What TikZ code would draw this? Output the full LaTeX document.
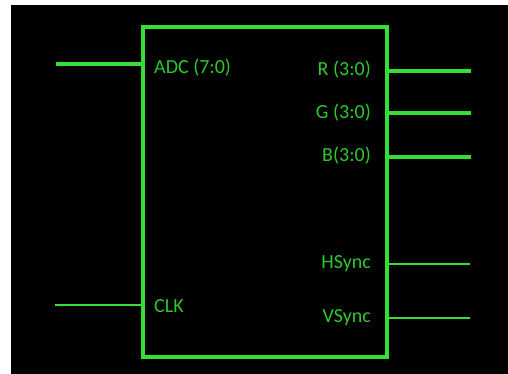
\documentclass[tikz,border=0pt]{standalone}
\usepackage{fontspec}
\setmainfont{Carlito}
\usetikzlibrary{positioning, calc}
\definecolor{wiregreen}{RGB}{52,222,52}
\definecolor{labelgreen}{RGB}{44,200,44}
\begin{document}
\begin{tikzpicture}[x=1pt,y=1pt,
    busline/.style={draw=wiregreen,line width=4pt},
    sigline/.style={draw=wiregreen,line width=2pt},
    pinlabel/.style={text=labelgreen,inner sep=0pt,font=\fontsize{20}{24}\selectfont}]
          \useasboundingbox(0,0)rectangle(508,374);
          \fill[white](0,0)rectangle(508,374);
          \fill[black](11,0)rectangle(508,369);
          \node[draw=wiregreen,line width=4pt,minimum width=244pt,minimum height=330pt,
                inner sep=0pt,anchor=south west](vga)at(141,15){};
          % inputs
          \coordinate(adcin)at(56,310);
          \coordinate(clkin)at(55,69);
          \draw[busline](adcin)--(adcin-|vga.west);
          \draw[sigline](clkin)--(clkin-|vga.west);
          \node[pinlabel,anchor=base west](adc)at(154,300){ADC (7:0)};
          \node[pinlabel,anchor=base west](clk)at(154,61){CLK};
          % outputs
          \coordinate(rout)at(471,303);
          \coordinate(gout)at(471,261);
          \coordinate(bout)at(471,217);
          \coordinate(hout)at(470,110);
          \coordinate(vout)at(470,56);
          \draw[busline](rout-|vga.east)--(rout);
          \draw[busline](gout-|vga.east)--(gout);
          \draw[busline](bout-|vga.east)--(bout);
          \draw[sigline](hout-|vga.east)--(hout);
          \draw[sigline](vout-|vga.east)--(vout);
          \node[pinlabel,anchor=base east](r)at(371,298){R (3:0)};
          \node[pinlabel,anchor=base east](g)at(371,255){G (3:0)};
          \node[pinlabel,anchor=base east](b)at(371,212){B(3:0)};
          \node[pinlabel,anchor=base east](hs)at(371,105){HSync};
          \node[pinlabel,anchor=base east](vs)at(371,51){VSync};
        \end{tikzpicture}
\end{document}
